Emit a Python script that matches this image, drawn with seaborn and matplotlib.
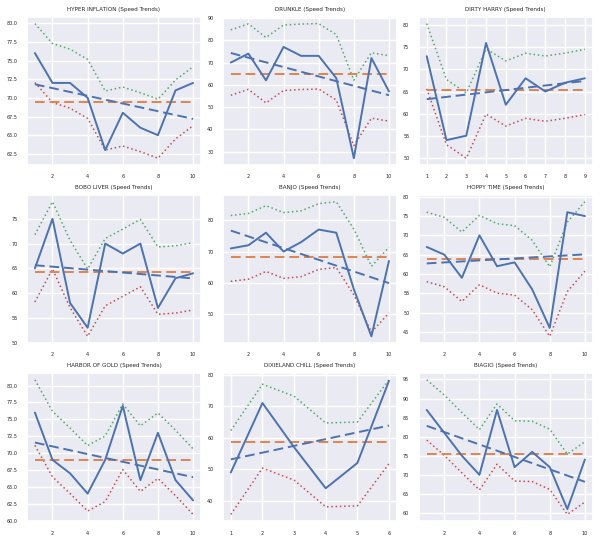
import numpy as np
import pandas as pd
import matplotlib.pyplot as plt
import seaborn as sns

# Style
sns.set_theme(style="darkgrid")
plt.rcParams.update({
    'font.family': ['DejaVu Sans'],
    'xtick.labelsize': 3.5,
    'ytick.labelsize': 3.5,
    'axes.titlesize': 4.1,
})

# Speeds per horse, one value per race
horses = ["HYPER INFLATION", "DRUNKLE", "DIRTY HARRY",
          "BOBO LIVER", "BANJO", "HOPPY TIME",
          "HARBOR OF GOLD", "DIXIELAND CHILL", "BIAGIO"]
hyper_inflation = [76, 72, 72, 70, 63, 68, 66, 65, 71, 72]
drunkle = [70, 74, 62, 77, 73, 73, 63, 27, 72, 57]
dirty_harry = [73, 54, 55, 76, 62, 68, 65, 67, 68]
bobo_liver = [65, 75, 58, 53, 70, 68, 70, 57, 63, 64]
banjo = [71, 72, 76, 70, 73, 77, 76, 58, 43, 67]
hoppy_time = [67, 65, 59, 70, 62, 63, 56, 46, 76, 75]
harbor_of_gold = [76, 69, 67, 64, 69, 77, 66, 73, 66, 63]
dixieland_chill = [49, 71, 57, 44, 52, 78]
biagio = [87, 81, 75, 70, 87, 72, 76, 72, 61, 74]

speeds = [hyper_inflation, drunkle, dirty_harry,
          bobo_liver, banjo, hoppy_time,
          harbor_of_gold, dixieland_chill, biagio]

pal = sns.color_palette("deep")
blue, orange, green, red = pal[0], pal[1], pal[2], pal[3]

fig, axes = plt.subplots(3, 3, figsize=(6, 5.44), dpi=100)
fig.subplots_adjust(left=0.045, right=0.988, top=0.969, bottom=0.042,
                    wspace=0.126, hspace=0.203)

for ax, name, spd in zip(axes.flat, horses, speeds):
    df = pd.DataFrame({"race": np.arange(1, len(spd) + 1), "speed": spd})
    df["mean"] = df["speed"].mean()
    slope, icpt = np.polyfit(df["race"], df["speed"], 1)
    df["trend"] = slope * df["race"] + icpt
    smooth = df["speed"].ewm(span=3).mean()
    sd = df["speed"].std()
    df["upper"] = smooth + sd
    df["lower"] = smooth - sd

    sns.lineplot(data=df, x="race", y="speed", ax=ax, color=blue, linewidth=1.4, zorder=5)
    sns.lineplot(data=df, x="race", y="mean", ax=ax, color=orange, linewidth=1.4,
                 linestyle=(0, (5, 2.5)), zorder=3)
    sns.lineplot(data=df, x="race", y="trend", ax=ax, color=blue, linewidth=1.4,
                 linestyle=(0, (5, 2.5)), zorder=4)
    sns.lineplot(data=df, x="race", y="upper", ax=ax, color=green, linewidth=1.1,
                 linestyle=(0, (1, 1.8)), zorder=2)
    sns.lineplot(data=df, x="race", y="lower", ax=ax, color=red, linewidth=1.1,
                 linestyle=(0, (1, 1.8)), zorder=2)

    ax.set_title(f"{name} (Speed Trends)", pad=4.5)
    ax.set_xlabel("")
    ax.set_ylabel("")
    ax.tick_params(axis="both", length=0, pad=6.8)

plt.savefig("out.png", dpi=100)
plt.close()
